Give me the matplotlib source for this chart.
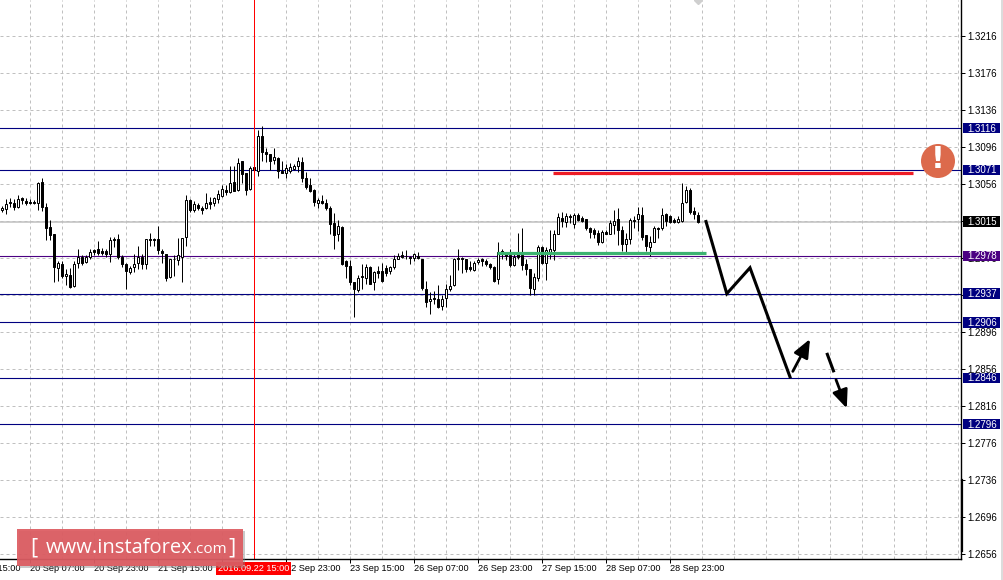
import numpy as np
import matplotlib
matplotlib.use('Agg')
import matplotlib.pyplot as plt
from matplotlib.patches import Rectangle, Circle

# hourly candles, prices
opens = [1.3027,1.3029,1.3036,1.3035,1.3031,1.3040,1.3037,1.3036,1.3036,1.3035,
         1.3058,1.3031,1.3009,1.3002,1.2965,1.2969,1.2956,1.2957,1.2945,1.2970,
         1.2977,1.2971,1.2977,1.2984,1.2985,1.2983,1.2983,1.2980,1.2996,1.2996,
         1.2977,1.2969,1.2960,1.2966,1.2970,1.2977,1.2969,1.2996,1.2996,1.2996,
         1.2983,1.2980,1.2955,1.2975,1.2973,1.2977,1.2998,1.3038,1.3027,1.3033,
         1.3030,1.3030,1.3036,1.3035,1.3039,1.3043,1.3049,1.3047,1.3058,1.3049,
         1.3080,1.3067,1.3050,1.3074,1.3070,1.3108,1.3090,1.3088,1.3081,1.3084,
         1.3070,1.3067,1.3070,1.3072,1.3075,1.3079,1.3062,1.3054,1.3049,1.3035,
         1.3037,1.3035,1.3030,1.3013,1.3001,1.3009,1.2972,1.2967,1.2950,1.2941,
         1.2956,1.2954,1.2966,1.2950,1.2961,1.2961,1.2965,1.2961,1.2966,1.2975,
         1.2979,1.2978,1.2977,1.2976,1.2978,1.2975,1.2942,1.2929,1.2932,1.2931,
         1.2924,1.2932,1.2942,1.2946,1.2976,1.2976,1.2975,1.2966,1.2963,1.2971,
         1.2975,1.2972,1.2969,1.2966,1.2953,1.2983,1.2981,1.2979,1.2968,1.2980,
         1.2979,1.2969,1.2964,1.2942,1.2954,1.2987,1.2970,1.2982,1.2984,1.3002,
         1.3019,1.3015,1.3021,1.3012,1.3022,1.3019,1.3018,1.3008,1.3006,1.3003,
         1.2993,1.3004,1.3001,1.3011,1.3018,1.3006,1.2991,1.2996,1.3017,1.3018,
         1.3022,1.3000,1.2988,1.2993,1.3008,1.3008,1.3023,1.3021,1.3017,1.3015,
         1.3016,1.3036,1.3049,1.3026,1.3022]
closes = [1.3030,1.3034,1.3035,1.3031,1.3039,1.3038,1.3035,1.3035,1.3035,1.3057,
          1.3031,1.3008,1.3000,1.2966,1.2970,1.2956,1.2958,1.2944,1.2969,1.2977,
          1.2970,1.2977,1.2982,1.2982,1.2981,1.2981,1.2980,1.2995,1.2995,1.2977,
          1.2969,1.2961,1.2965,1.2969,1.2977,1.2969,1.2996,1.2995,1.2995,1.2984,
          1.2981,1.2954,1.2974,1.2974,1.2979,1.2997,1.3038,1.3028,1.3034,1.3030,
          1.3028,1.3035,1.3034,1.3040,1.3045,1.3050,1.3047,1.3057,1.3048,1.3078,
          1.3066,1.3049,1.3073,1.3071,1.3108,1.3090,1.3088,1.3080,1.3085,1.3070,
          1.3068,1.3073,1.3074,1.3075,1.3080,1.3062,1.3052,1.3048,1.3036,1.3038,
          1.3035,1.3030,1.3012,1.3000,1.3010,1.2969,1.2967,1.2950,1.2942,1.2954,
          1.2955,1.2966,1.2948,1.2960,1.2959,1.2951,1.2959,1.2966,1.2975,1.2978,
          1.2977,1.2978,1.2976,1.2980,1.2976,1.2943,1.2928,1.2931,1.2931,1.2923,
          1.2931,1.2942,1.2945,1.2974,1.2974,1.2975,1.2964,1.2964,1.2970,1.2973,
          1.2972,1.2969,1.2966,1.2951,1.2982,1.2980,1.2978,1.2968,1.2977,1.2977,
          1.2968,1.2964,1.2943,1.2955,1.2987,1.2970,1.2984,1.2985,1.3002,1.3020,
          1.3016,1.3021,1.3020,1.3022,1.3017,1.3016,1.3008,1.3004,1.3001,1.2993,
          1.3004,1.3002,1.3013,1.3016,1.3006,1.2991,1.2996,1.3017,1.3016,1.3023,
          1.2998,1.2989,1.2993,1.3008,1.3007,1.3022,1.3016,1.3015,1.3014,1.3018,
          1.3035,1.3049,1.3025,1.3023,1.3014]
highs = [1.3032,1.3039,1.3040,1.3039,1.3044,1.3041,1.3040,1.3039,1.3038,1.3058,
         1.3062,1.3035,1.3017,1.3002,1.2972,1.2972,1.2964,1.2965,1.2972,1.2985,
         1.2979,1.2979,1.2985,1.2985,1.2994,1.2986,1.2985,1.2998,1.2998,1.3002,
         1.2979,1.2970,1.2967,1.2980,1.2989,1.2980,1.2996,1.3003,1.2997,1.3010,
         1.2985,1.2980,1.2974,1.2979,1.2997,1.2997,1.3044,1.3039,1.3037,1.3035,
         1.3032,1.3046,1.3041,1.3042,1.3049,1.3054,1.3054,1.3075,1.3075,1.3084,
         1.3080,1.3068,1.3075,1.3075,1.3114,1.3118,1.3095,1.3088,1.3095,1.3085,
         1.3080,1.3077,1.3078,1.3077,1.3085,1.3085,1.3069,1.3062,1.3050,1.3040,
         1.3044,1.3039,1.3032,1.3024,1.3017,1.3010,1.2973,1.2973,1.2950,1.2957,
         1.2969,1.2969,1.2967,1.2961,1.2967,1.2970,1.2968,1.2967,1.2979,1.2981,
         1.2983,1.2984,1.2978,1.2981,1.2982,1.2975,1.2951,1.2939,1.2940,1.2946,
         1.2936,1.2948,1.2957,1.2976,1.2985,1.2977,1.2975,1.2972,1.2972,1.2976,
         1.2976,1.2974,1.2970,1.2967,1.2993,1.2985,1.2982,1.2985,1.2981,1.3003,
         1.3008,1.2974,1.2964,1.2959,1.2990,1.2989,1.2987,1.3006,1.3006,1.3024,
         1.3025,1.3024,1.3023,1.3024,1.3024,1.3021,1.3018,1.3009,1.3008,1.3006,
         1.3006,1.3006,1.3017,1.3028,1.3030,1.3010,1.3003,1.3019,1.3021,1.3031,
         1.3031,1.3000,1.2999,1.3010,1.3009,1.3030,1.3024,1.3022,1.3019,1.3021,
         1.3057,1.3053,1.3051,1.3031,1.3025]
lows = [1.3025,1.3023,1.3031,1.3027,1.3030,1.3034,1.3033,1.3034,1.3034,1.3027,
        1.3026,1.2995,1.2995,1.2950,1.2951,1.2954,1.2946,1.2943,1.2944,1.2965,
        1.2968,1.2970,1.2975,1.2979,1.2979,1.2979,1.2977,1.2971,1.2987,1.2975,
        1.2966,1.2942,1.2958,1.2960,1.2964,1.2964,1.2964,1.2989,1.2989,1.2980,
        1.2970,1.2951,1.2954,1.2956,1.2968,1.2950,1.2989,1.3025,1.3025,1.3028,
        1.3023,1.3029,1.3029,1.3032,1.3035,1.3041,1.3044,1.3046,1.3048,1.3048,
        1.3057,1.3044,1.3049,1.3069,1.3064,1.3080,1.3079,1.3071,1.3077,1.3062,
        1.3067,1.3062,1.3068,1.3071,1.3069,1.3058,1.3050,1.3047,1.3032,1.3030,
        1.3034,1.3027,1.3001,1.2985,1.2994,1.2968,1.2954,1.2946,1.2912,1.2939,
        1.2942,1.2948,1.2947,1.2941,1.2954,1.2950,1.2956,1.2958,1.2964,1.2974,
        1.2976,1.2975,1.2969,1.2972,1.2974,1.2941,1.2923,1.2915,1.2926,1.2921,
        1.2919,1.2923,1.2940,1.2945,1.2963,1.2959,1.2960,1.2962,1.2961,1.2969,
        1.2967,1.2967,1.2964,1.2950,1.2947,1.2975,1.2973,1.2966,1.2967,1.2975,
        1.2963,1.2957,1.2936,1.2936,1.2951,1.2969,1.2952,1.2974,1.2973,1.3001,
        1.3009,1.3009,1.3013,1.3008,1.3016,1.3015,1.3006,1.2997,1.2997,1.2990,
        1.2992,1.3001,1.3001,1.3001,1.2990,1.2983,1.2982,1.2991,1.3008,1.3005,
        1.2995,1.2983,1.2978,1.2993,1.2997,1.3006,1.3010,1.3013,1.3013,1.3013,
        1.3015,1.3035,1.3023,1.3018,1.3013]

# levels
navy_levels = [1.3116, 1.3071, 1.2937, 1.2906, 1.2846, 1.2796]
purple_level = 1.2978
current_price = 1.3015

# drawn forecast, (bar, price)
path_bars = [176.0, 181.2, 187.0, 197.0]
path_prices = [1.3015, 1.2937, 1.2965, 1.2847]
up_arrow = [(197.7, 1.2853), (202.0, 1.2888)]
down_dash = [(206.2, 1.2873), (208.0, 1.2852)]
down_arrow = [(208.5, 1.2844), (211.2, 1.2813)]
red_bars = [137.7, 227.7]
red_price = 1.3068
green_bars = [123.7, 176.0]
green_price = 1.2981
cursor_bar = 63

price_ticks = [1.2656, 1.2696, 1.2736, 1.2776, 1.2816, 1.2856, 1.2896, 1.2936,
               1.2976, 1.3016, 1.3056, 1.3096, 1.3136, 1.3176, 1.3216]
time_bars = [-9, 7, 23, 39, 55, 71, 87, 103, 119, 135, 151, 167]
time_labels = ['19 Sep 15:00', '20 Sep 07:00', '20 Sep 23:00', '21 Sep 15:00',
               '22 Sep 07:00', '22 Sep 23:00', '23 Sep 15:00', '26 Sep 07:00',
               '26 Sep 23:00', '27 Sep 15:00', '28 Sep 07:00', '28 Sep 23:00']

W, H = 1004, 580
FONT = 'Liberation Sans'
LW = 0.72  # 1 px

fig = plt.figure(figsize=(W / 100, H / 100), dpi=100, facecolor='white')
ax = fig.add_axes([0, 1 - 558.5 / H, 961 / W, 558.5 / H])
ax.spines['left'].set_visible(False)
ax.spines['top'].set_visible(False)
ax.spines['right'].set_linewidth(1.0)
ax.spines['bottom'].set_linewidth(1.0)

# grid
ax.set_axisbelow(True)
ax.yaxis.tick_right()
ax.set_yticks(price_ticks)
ax.set_yticklabels(['%.4f' % v for v in price_ticks], fontsize=7, family=FONT)
ax.set_xticks(time_bars[1:])
ax.set_xticklabels([])
ax.set_xticks(np.arange(7, 240, 8), minor=True)
ax.tick_params(axis='both', which='major', length=3, width=LW, pad=1.5, color='black')
ax.tick_params(axis='x', which='minor', length=0)
ax.grid(True, which='both', color='#c0c0c0', linestyle=(0, (3, 3)), linewidth=LW)

for bar, label in zip(time_bars, time_labels):
    ax.text(bar, -0.018, label, transform=ax.get_xaxis_transform(), fontsize=6.6, family=FONT,
            ha='left', va='center', clip_on=False, zorder=3)

# levels behind the candles
ax.axhline(current_price, color='#c0c0c0', lw=1.1, zorder=1.5)
for lev in navy_levels:
    ax.axhline(lev, color='#000080', lw=LW * 1.1, zorder=1.6)
ax.axhline(purple_level, color='#4b0082', lw=LW * 1.1, zorder=1.6)

# candles
o = np.array(opens)
c = np.array(closes)
x = np.arange(len(o))
ax.vlines(x, lows, highs, color='black', lw=LW, zorder=2)
up = c >= o
ax.bar(x[up], (c - o)[up], bottom=o[up], width=0.5, facecolor='white', edgecolor='black', lw=LW, zorder=2.2)
ax.bar(x[~up], (o - c)[~up], bottom=c[~up], width=0.5, facecolor='black', edgecolor='black', lw=LW, zorder=2.2)

# crosshair line
ax.axvline(cursor_bar, color='#ff0000', lw=LW, zorder=2.5)

# forecast lines
ax.plot(red_bars, [red_price, red_price], color='#ee1c25', lw=2.3, solid_capstyle='butt', zorder=3)
ax.plot(green_bars, [green_price, green_price], color='#3cb371', lw=2.3, solid_capstyle='butt', zorder=3)
ax.plot(path_bars, path_prices, color='black', lw=2.2, solid_joinstyle='miter', zorder=4)
ax.plot(*zip(*down_dash), color='black', lw=2.2, solid_capstyle='butt', zorder=4)

# small diamond cut by the top edge
ax.plot([173.9], [1.3216 + 35.6 / 9250], marker='D', ms=4, color='#cfcfcf', zorder=2)

# limits last, set_xticks and the bars can move them
# half a pixel off so the snapped lines land on the same pixels as the reference
ax.set_xlim(-0.5, 239.75)
ax.set_ylim(1.3216 - 522.9 / 9250, 1.3216 + 35.6 / 9250)

for start, end in (up_arrow, down_arrow):
    ax.annotate('', xy=end, xytext=start, zorder=4,
                arrowprops=dict(arrowstyle='-|>,head_length=0.85,head_width=0.36', color='black', lw=2.0,
                                mutation_scale=13, shrinkA=0, shrinkB=0))

# price boxes on the axis
trans = ax.get_yaxis_transform()
boxes = [(v, '#000080') for v in navy_levels] + [(purple_level, '#4b0082'), (current_price, '#000000')]
for v, col in boxes:
    ax.add_patch(Rectangle((1.0022, v - 5.2 / 9250), 36.5 / 961, 10.4 / 9250, transform=trans, facecolor=col,
                           edgecolor='none', clip_on=False, zorder=5.5))
    ax.text(1.0062, v - 0.6 / 9250, '%.4f' % v, transform=trans, fontsize=7, family=FONT, color='white',
            ha='left', va='center', clip_on=False, zorder=6)

# time box of the crosshair
ax.text(cursor_bar - 0.2, -0.018, '2016.09.22 15:00', transform=ax.get_xaxis_transform(), fontsize=6.6, family=FONT,
        color='white', ha='center', va='center', clip_on=False, zorder=6,
        bbox=dict(boxstyle='square,pad=0.2', facecolor='#ff0000', edgecolor='#ff0000', linewidth=0))


def fx(px):
    return px / W


def fy(py):
    return 1 - py / H


# thick piece on the price axis and the window edge
fig.add_artist(plt.Line2D([fx(962), fx(962)], [fy(480), fy(551)], color='black', lw=1.6))
fig.add_artist(Rectangle((fx(1001), 0), fx(3), 1, transform=fig.transFigure, facecolor='#dcdcdc', edgecolor='none'))

# warning badge
fig.add_artist(Circle((938, H - 161), 17, transform=None, facecolor='#dc6a4c', edgecolor='none', zorder=7))
fig.text(fx(938), fy(160), '!', color='white', fontsize=22, fontweight='bold', family='DejaVu Sans',
         ha='center', va='center', zorder=8)

# watermark
fig.add_artist(Rectangle((fx(19), fy(568)), fx(226), 37 / H, transform=fig.transFigure, facecolor='#888888',
                         alpha=0.45, edgecolor='none', zorder=9))
fig.add_artist(Rectangle((fx(17), fy(566)), fx(226), 37 / H, transform=fig.transFigure, facecolor='#dd5a60',
                         alpha=0.92, edgecolor='none', zorder=10))
fig.text(fx(30), fy(548), '[', color='white', fontsize=16, family='Open Sans', ha='left', va='center', zorder=11)
fig.text(fx(46), fy(548), 'www.instaforex', color='white', fontsize=14.5, family='Open Sans', ha='left', va='center', zorder=11)
fig.text(fx(193), fy(549.5), '.com', color='white', fontsize=11, family='Open Sans', ha='left', va='center', zorder=11)
fig.text(fx(228), fy(548), ']', color='white', fontsize=16, family='Open Sans', ha='left', va='center', zorder=11)

fig.savefig('out.png', dpi=100)
